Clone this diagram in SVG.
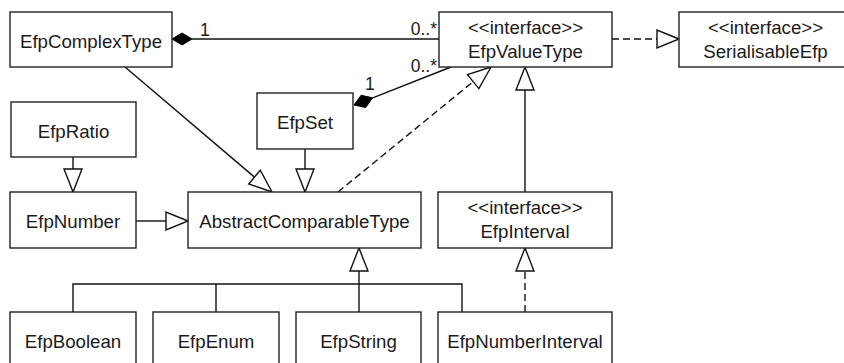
<svg xmlns="http://www.w3.org/2000/svg" width="844" height="363" viewBox="0 0 844 363">
<style>
.box{fill:#fff;stroke:#222;stroke-width:1.4}
.t{font-family:"Liberation Sans",Arial,sans-serif;font-size:18.67px;fill:#1a1a1a;text-anchor:middle}
.lbl{font-family:"Liberation Sans",Arial,sans-serif;font-size:17.5px;fill:#1a1a1a}
.ln{fill:none;stroke:#111;stroke-width:1.4}
.dash{fill:none;stroke:#111;stroke-width:1.4;stroke-dasharray:7 4}
.tri{fill:#fff;stroke:#111;stroke-width:1.4;stroke-linejoin:miter}
.dia{fill:#000;stroke:#000;stroke-width:1}
</style>
<rect width="844" height="363" fill="#fff"/>
<g id="connectors">
  <line class="ln" x1="192" y1="39" x2="439" y2="39"/>
  <polygon class="dia" points="172,39 182,33 192,39 182,45"/>
  <text class="lbl" x="200" y="36">1</text>
  <text class="lbl" x="437" y="35" text-anchor="end">0..*</text>
  <line class="ln" x1="372.7" y1="97.8" x2="451" y2="67"/>
  <polygon class="dia" points="354,105 361.1,95.3 372.7,97.8 365.7,107.5"/>
  <text class="lbl" x="365" y="90">1</text>
  <text class="lbl" x="437" y="72" text-anchor="end">0..*</text>
  <line class="ln" x1="125" y1="67" x2="254.5" y2="177.1"/>
  <polygon class="tri" points="272,192 248.7,184 260.3,170.2"/>
  <line class="ln" x1="305" y1="149" x2="305" y2="169"/>
  <polygon class="tri" points="305,192 296,169 314,169"/>
  <line class="dash" x1="338" y1="192" x2="473.2" y2="81.6"/>
  <polygon class="tri" points="491,67 478.9,88.6 467.5,74.6"/>
  <line class="ln" x1="73" y1="157" x2="73" y2="169"/>
  <polygon class="tri" points="73,192 64,169 82,169"/>
  <line class="ln" x1="136" y1="221" x2="166" y2="221"/>
  <polygon class="tri" points="188,221 166,212 166,230"/>
  <line class="ln" x1="525" y1="192" x2="525" y2="90"/>
  <polygon class="tri" points="525,67 516,90 534,90"/>
  <line class="dash" x1="612" y1="39" x2="657" y2="39"/>
  <polygon class="tri" points="679,39 657,30 657,48"/>
  <polyline class="ln" points="73,312 73,284 462,284 462,312"/>
  <line class="ln" x1="216" y1="284" x2="216" y2="312"/>
  <line class="ln" x1="359" y1="312" x2="359" y2="271"/>
  <polygon class="tri" points="359,248 350,271 368,271"/>
  <line class="dash" x1="525" y1="312" x2="525" y2="271"/>
  <polygon class="tri" points="525,248 516,271 534,271"/>
</g>
<g id="EfpComplexType"><rect class="box" x="10" y="12" width="162" height="55"/><text class="t" x="91" y="48">EfpComplexType</text></g>
<g id="EfpValueType"><rect class="box" x="439" y="12" width="173" height="55"/><text class="t" x="525.5" y="34">&lt;&lt;interface&gt;&gt;</text><text class="t" x="525.5" y="58">EfpValueType</text></g>
<g id="SerialisableEfp"><rect class="box" x="679" y="12" width="173" height="55"/><text class="t" x="765.5" y="34">&lt;&lt;interface&gt;&gt;</text><text class="t" x="765.5" y="58">SerialisableEfp</text></g>
<g id="EfpSet"><rect class="box" x="257" y="93" width="96" height="56"/><text class="t" x="305" y="129">EfpSet</text></g>
<g id="EfpRatio"><rect class="box" x="11" y="102" width="125" height="55"/><text class="t" x="73.5" y="138">EfpRatio</text></g>
<g id="EfpNumber"><rect class="box" x="10" y="192" width="126" height="56"/><text class="t" x="73" y="228">EfpNumber</text></g>
<g id="AbstractComparableType"><rect class="box" x="188" y="192" width="233" height="56"/><text class="t" x="304.5" y="228">AbstractComparableType</text></g>
<g id="EfpInterval"><rect class="box" x="438" y="192" width="174" height="56"/><text class="t" x="525" y="214">&lt;&lt;interface&gt;&gt;</text><text class="t" x="525" y="238">EfpInterval</text></g>
<g id="EfpBoolean"><rect class="box" x="10" y="312" width="126" height="56"/><text class="t" x="73" y="348">EfpBoolean</text></g>
<g id="EfpEnum"><rect class="box" x="153" y="312" width="126" height="56"/><text class="t" x="216" y="348">EfpEnum</text></g>
<g id="EfpString"><rect class="box" x="296" y="312" width="125" height="56"/><text class="t" x="358.5" y="348">EfpString</text></g>
<g id="EfpNumberInterval"><rect class="box" x="438" y="312" width="174" height="56"/><text class="t" x="525" y="348">EfpNumberInterval</text></g>
</svg>
